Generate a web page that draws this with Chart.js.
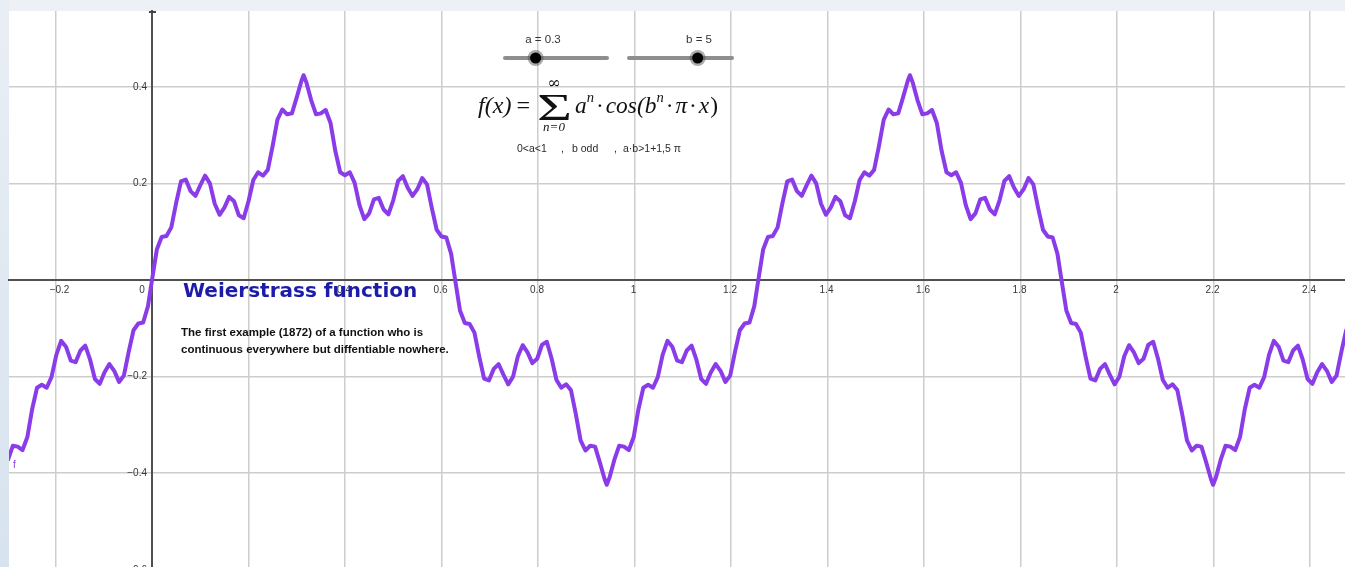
<!DOCTYPE html>
<html>
<head>
<meta charset="utf-8">
<title>Weierstrass function</title>
<script src="https://cdn.jsdelivr.net/npm/chart.js@4.4.1/dist/chart.umd.min.js"></script>
<style>
  html, body { margin: 0; padding: 0; background: #e6edf4; overflow: hidden; }
  canvas { display: block; }
</style>
</head>
<body>
<canvas id="plot" width="1345" height="567"></canvas>
<script>
// ---- Curve samples f(x), one array pair per half wave ----
const part1X = [-0.3083, -0.2983, -0.2883, -0.2783, -0.2683, -0.2583, -0.2483, -0.2383, -0.2283, -0.2183,
  -0.2083, -0.1983, -0.1883, -0.1783, -0.1683, -0.1583, -0.1483, -0.1383, -0.1283, -0.1183,
  -0.1083, -0.0983, -0.0883, -0.0783, -0.0683, -0.0583, -0.0483, -0.0383, -0.0283, -0.0183, -0.0083];
const part1Y = [-0.409, -0.372, -0.343, -0.345, -0.352, -0.325, -0.267, -0.223, -0.217, -0.223,
  -0.201, -0.155, -0.126, -0.138, -0.167, -0.170, -0.146, -0.136, -0.165, -0.205,
  -0.215, -0.191, -0.174, -0.188, -0.211, -0.198, -0.149, -0.104, -0.090, -0.088, -0.054];

const part2X = [0.00, 0.01, 0.02, 0.03, 0.04, 0.05, 0.06, 0.07, 0.08, 0.09,
  0.10, 0.11, 0.12, 0.13, 0.14, 0.15, 0.16, 0.17, 0.18, 0.19,
  0.20, 0.21, 0.22, 0.23, 0.24, 0.25, 0.26, 0.27, 0.28, 0.29,
  0.30, 0.31, 0.3142, 0.32, 0.33, 0.34, 0.35, 0.36, 0.37, 0.38, 0.39,
  0.40, 0.41, 0.42, 0.43, 0.44, 0.45, 0.46, 0.47, 0.48, 0.49,
  0.50, 0.51, 0.52, 0.53, 0.54, 0.55, 0.56, 0.57, 0.58, 0.59,
  0.60, 0.61, 0.62];
const part2Y = [0.000, 0.063, 0.089, 0.091, 0.109, 0.159, 0.204, 0.208, 0.184, 0.174,
  0.196, 0.216, 0.200, 0.158, 0.135, 0.150, 0.172, 0.163, 0.134, 0.128,
  0.163, 0.207, 0.223, 0.216, 0.228, 0.277, 0.332, 0.353, 0.343, 0.345,
  0.378, 0.413, 0.424, 0.409, 0.372, 0.343, 0.345, 0.352, 0.325, 0.267, 0.223,
  0.217, 0.223, 0.201, 0.155, 0.126, 0.138, 0.167, 0.170, 0.146, 0.136,
  0.165, 0.205, 0.215, 0.191, 0.174, 0.188, 0.211, 0.198, 0.149, 0.104,
  0.090, 0.088, 0.054];

const part3X = [0.6283, 0.6383, 0.6483, 0.6583, 0.6683, 0.6783, 0.6883, 0.6983, 0.7083, 0.7183,
  0.7283, 0.7383, 0.7483, 0.7583, 0.7683, 0.7783, 0.7883, 0.7983, 0.8083, 0.8183,
  0.8283, 0.8383, 0.8483, 0.8583, 0.8683, 0.8783, 0.8883, 0.8983, 0.9083, 0.9183,
  0.9283, 0.9383, 0.9425, 0.9483, 0.9583, 0.9683, 0.9783, 0.9883, 0.9983, 1.0083, 1.0183,
  1.0283, 1.0383, 1.0483, 1.0583, 1.0683, 1.0783, 1.0883, 1.0983, 1.1083, 1.1183,
  1.1283, 1.1383, 1.1483, 1.1583, 1.1683, 1.1783, 1.1883, 1.1983, 1.2083, 1.2183,
  1.2283, 1.2383, 1.2483];
const part3Y = [-0.000, -0.063, -0.089, -0.091, -0.109, -0.159, -0.204, -0.208, -0.184, -0.174,
  -0.196, -0.216, -0.200, -0.158, -0.135, -0.150, -0.172, -0.163, -0.134, -0.128,
  -0.163, -0.207, -0.223, -0.216, -0.228, -0.277, -0.332, -0.353, -0.343, -0.345,
  -0.378, -0.413, -0.424, -0.409, -0.372, -0.343, -0.345, -0.352, -0.325, -0.267, -0.223,
  -0.217, -0.223, -0.201, -0.155, -0.126, -0.138, -0.167, -0.170, -0.146, -0.136,
  -0.165, -0.205, -0.215, -0.191, -0.174, -0.188, -0.211, -0.198, -0.149, -0.104,
  -0.090, -0.088, -0.054];

const part4X = [1.2566, 1.2666, 1.2766, 1.2866, 1.2966, 1.3066, 1.3166, 1.3266, 1.3366, 1.3466,
  1.3566, 1.3666, 1.3766, 1.3866, 1.3966, 1.4066, 1.4166, 1.4266, 1.4366, 1.4466,
  1.4566, 1.4666, 1.4766, 1.4866, 1.4966, 1.5066, 1.5166, 1.5266, 1.5366, 1.5466,
  1.5566, 1.5666, 1.5708, 1.5766, 1.5866, 1.5966, 1.6066, 1.6166, 1.6266, 1.6366, 1.6466,
  1.6566, 1.6666, 1.6766, 1.6866, 1.6966, 1.7066, 1.7166, 1.7266, 1.7366, 1.7466,
  1.7566, 1.7666, 1.7766, 1.7866, 1.7966, 1.8066, 1.8166, 1.8266, 1.8366, 1.8466,
  1.8566, 1.8666, 1.8766];
const part4Y = [0.000, 0.063, 0.089, 0.091, 0.109, 0.159, 0.204, 0.208, 0.184, 0.174,
  0.196, 0.216, 0.200, 0.158, 0.135, 0.150, 0.172, 0.163, 0.134, 0.128,
  0.163, 0.207, 0.223, 0.216, 0.228, 0.277, 0.332, 0.353, 0.343, 0.345,
  0.378, 0.413, 0.424, 0.409, 0.372, 0.343, 0.345, 0.352, 0.325, 0.267, 0.223,
  0.217, 0.223, 0.201, 0.155, 0.126, 0.138, 0.167, 0.170, 0.146, 0.136,
  0.165, 0.205, 0.215, 0.191, 0.174, 0.188, 0.211, 0.198, 0.149, 0.104,
  0.090, 0.088, 0.054];

const part5X = [1.8850, 1.8950, 1.9050, 1.9150, 1.9250, 1.9350, 1.9450, 1.9550, 1.9650, 1.9750,
  1.9850, 1.9950, 2.0050, 2.0150, 2.0250, 2.0350, 2.0450, 2.0550, 2.0650, 2.0750,
  2.0850, 2.0950, 2.1050, 2.1150, 2.1250, 2.1350, 2.1450, 2.1550, 2.1650, 2.1750,
  2.1850, 2.1950, 2.1992, 2.2050, 2.2150, 2.2250, 2.2350, 2.2450, 2.2550, 2.2650, 2.2750,
  2.2850, 2.2950, 2.3050, 2.3150, 2.3250, 2.3350, 2.3450, 2.3550, 2.3650, 2.3750,
  2.3850, 2.3950, 2.4050, 2.4150, 2.4250, 2.4350, 2.4450, 2.4550, 2.4650, 2.4750];
const part5Y = [-0.000, -0.063, -0.089, -0.091, -0.109, -0.159, -0.204, -0.208, -0.184, -0.174,
  -0.196, -0.216, -0.200, -0.158, -0.135, -0.150, -0.172, -0.163, -0.134, -0.128,
  -0.163, -0.207, -0.223, -0.216, -0.228, -0.277, -0.332, -0.353, -0.343, -0.345,
  -0.378, -0.413, -0.424, -0.409, -0.372, -0.343, -0.345, -0.352, -0.325, -0.267, -0.223,
  -0.217, -0.223, -0.201, -0.155, -0.126, -0.138, -0.167, -0.170, -0.146, -0.136,
  -0.165, -0.205, -0.215, -0.191, -0.174, -0.188, -0.211, -0.198, -0.149, -0.104];

// ---- Axes: grid values and printed labels ----
const xGridValues = [-0.2, 0, 0.2, 0.4, 0.6, 0.8, 1, 1.2, 1.4, 1.6, 1.8, 2, 2.2, 2.4];
const yGridValues = [-0.4, -0.2, 0, 0.2, 0.4];
const xLabelValues = [-0.2, 0.4, 0.6, 0.8, 1, 1.2, 1.4, 1.6, 1.8, 2, 2.2, 2.4];
const yLabelValues = [-0.6, -0.4, -0.2, 0.2, 0.4];

// ---- Sliders ----
const sliderA = { name: 'a', value: 0.3, min: 0, max: 1 };
const sliderB = { name: 'b', value: 5, min: 1, max: 7 };

const CURVE = '#8a3ce8';

const parts = [[part1X, part1Y], [part2X, part2Y], [part3X, part3Y], [part4X, part4Y], [part5X, part5Y]];
const curvePoints = [];
parts.forEach(([xs, ys]) => {
  const n = Math.min(xs.length, ys.length);
  for (let i = 0; i < n; i++) curvePoints.push({ x: xs[i], y: ys[i] });
});

function fmt(v) {
  const s = String(Math.round(Math.abs(v) * 10) / 10);
  return v < 0 ? '\u2212' + s : s;
}

function put(ctx, text, x, y, font, width, align) {
  ctx.font = font;
  ctx.textAlign = align || 'left';
  if (width) {
    const m = ctx.measureText(text).width;
    ctx.save();
    ctx.translate(x, y);
    ctx.scale(width / m, 1);
    ctx.fillText(text, 0, 0);
    ctx.restore();
  } else {
    ctx.fillText(text, x, y);
  }
}

// lays out a run of pieces left to right, squeezed/stretched to a given width
function putRun(ctx, items, x, y, width) {
  ctx.textAlign = 'left';
  let total = 0;
  items.forEach(it => {
    if (it.gap) { it.w = it.gap; } else { ctx.font = it.f; it.w = ctx.measureText(it.t).width; }
    total += it.w;
  });
  ctx.save();
  ctx.translate(x, y);
  ctx.scale(width / total, 1);
  let cx = 0;
  items.forEach(it => {
    if (!it.gap) { ctx.font = it.f; ctx.fillText(it.t, cx, it.dy || 0); }
    cx += it.w;
  });
  ctx.restore();
}

function drawSlider(ctx, s, x1, x2, y, labelX) {
  ctx.save();
  ctx.lineCap = 'round';
  ctx.strokeStyle = '#8e8e8e';
  ctx.lineWidth = 4;
  ctx.beginPath(); ctx.moveTo(x1, y); ctx.lineTo(x2, y); ctx.stroke();
  const kx = x1 + (s.value - s.min) / (s.max - s.min) * (x2 - x1);
  ctx.fillStyle = 'rgba(70,70,70,0.45)';
  ctx.beginPath(); ctx.arc(kx, y, 8, 0, Math.PI * 2); ctx.fill();
  ctx.fillStyle = '#000';
  ctx.beginPath(); ctx.arc(kx, y, 5.5, 0, Math.PI * 2); ctx.fill();
  ctx.fillStyle = '#333';
  ctx.textBaseline = 'alphabetic';
  put(ctx, s.name + ' = ' + s.value, labelX, 43, '11.5px "Liberation Sans", Arial, sans-serif', null, 'center');
  ctx.restore();
}

const sheet = {
  id: 'sheet',
  beforeDraw(chart) {
    const { ctx, chartArea: a, width, height } = chart;
    ctx.save();
    const g = ctx.createLinearGradient(0, 0, 0, height);
    g.addColorStop(0, '#e9eef4');
    g.addColorStop(1, '#d7e3ef');
    ctx.fillStyle = g;
    ctx.fillRect(0, 0, a.left, height);
    ctx.fillStyle = '#edf1f5';
    ctx.fillRect(a.left, 0, width - a.left, a.top);
    ctx.fillStyle = '#ffffff';
    ctx.fillRect(a.left, a.top, a.right - a.left, a.bottom - a.top);
    ctx.restore();
  },
  beforeDatasetsDraw(chart) {
    const { ctx, chartArea: a } = chart;
    const xs = chart.scales.x, ys = chart.scales.y;
    const x0 = xs.getPixelForValue(0), y0 = ys.getPixelForValue(0);
    ctx.save();
    ctx.fillStyle = '#363636';
    ctx.textBaseline = 'middle';
    const tickFont = '10px "Liberation Sans", Arial, sans-serif';
    xLabelValues.forEach(v => {
      put(ctx, fmt(v), xs.getPixelForValue(v) + (v < 0 ? 4 : -1), y0 + 10, tickFont, null, 'center');
    });
    yLabelValues.forEach(v => {
      put(ctx, fmt(v), x0 - 5, ys.getPixelForValue(v), tickFont, null, 'right');
    });
    put(ctx, '0', x0 - 10, y0 + 10, tickFont, null, 'center');
    // cap at the top of the vertical axis
    ctx.fillStyle = '#444';
    ctx.fillRect(x0 - 3, a.top, 7, 2);
    ctx.restore();
  },
  afterDatasetsDraw(chart) {
    const { ctx } = chart;
    ctx.save();
    ctx.textBaseline = 'alphabetic';

    drawSlider(ctx, sliderA, 505, 607, 58, 543);
    drawSlider(ctx, sliderB, 629, 732, 58, 699);

    // f(x) = sum a^n cos(b^n pi x)
    ctx.fillStyle = '#111';
    const it = 'italic 24px "Liberation Serif", "DejaVu Serif", serif';
    const up = '24px "Liberation Serif", "DejaVu Serif", serif';
    const sup = 'italic 15px "Liberation Serif", "DejaVu Serif", serif';
    putRun(ctx, [
      { t: 'f(x)', f: it }, { gap: 5 }, { t: '=', f: up }
    ], 478, 113, 52);
    put(ctx, '\u03A3', 537, 120, '37px "Liberation Serif", "DejaVu Serif", serif', 35);
    put(ctx, '\u221E', 554, 88, '16px "DejaVu Serif", serif', null, 'center');
    put(ctx, 'n=0', 554, 131, 'italic 13px "Liberation Serif", "DejaVu Serif", serif', null, 'center');
    putRun(ctx, [
      { t: 'a', f: it }, { t: 'n', f: sup, dy: -11 }, { gap: 2 }, { t: '\u00B7', f: up }, { gap: 2 },
      { t: 'cos(', f: it }, { t: 'b', f: it }, { t: 'n', f: sup, dy: -11 }, { gap: 2 },
      { t: '\u00B7', f: up }, { gap: 2 }, { t: '\u03C0', f: it }, { gap: 2 }, { t: '\u00B7', f: up },
      { gap: 2 }, { t: 'x', f: it }, { gap: 1 }, { t: ')', f: up }
    ], 575, 113, 143);

    ctx.fillStyle = '#2a2a2a';
    const cond = '10.5px "Liberation Sans", Arial, sans-serif';
    put(ctx, '0<a<1', 517, 152, cond);
    put(ctx, ',', 561, 152, cond);
    put(ctx, 'b odd', 572, 152, cond);
    put(ctx, ',', 614, 152, cond);
    put(ctx, 'a\u00B7b>1+1,5 \u03C0', 623, 152, cond);

    // title and note
    ctx.fillStyle = '#1c1ca8';
    put(ctx, 'Weierstrass function', 183, 297, 'bold 20px "DejaVu Sans", Verdana, sans-serif');
    ctx.fillStyle = '#111';
    const note = 'bold 11.5px "Liberation Sans", Arial, sans-serif';
    put(ctx, 'The first example (1872) of a function who is', 181, 335.5, note);
    put(ctx, 'continuous everywhere but diffentiable nowhere.', 181, 353, note);

    // curve name
    ctx.fillStyle = CURVE;
    put(ctx, 'f', 13, 468, '10px "Liberation Sans", Arial, sans-serif');
    ctx.restore();
  }
};

const gridColor = c => (c.tick && c.tick.value === 0) ? 'rgba(0,0,0,0)' : '#cdcdcd';

new Chart(document.getElementById('plot'), {
  type: 'line',
  data: {
    datasets: [{
      data: curvePoints,
      borderColor: CURVE,
      borderWidth: 4,
      pointRadius: 0,
      pointHoverRadius: 0,
      tension: 0,
      fill: false,
      borderJoinStyle: 'round',
      borderCapStyle: 'round',
      clip: 0
    }]
  },
  options: {
    responsive: false,
    animation: false,
    devicePixelRatio: 1,
    events: [],
    layout: { padding: { left: 9, top: 11, right: 0, bottom: 0 } },
    plugins: { legend: { display: false }, tooltip: { enabled: false } },
    scales: {
      x: {
        type: 'linear',
        min: -0.29637,
        max: 2.47254,
        position: { y: 0 },
        afterBuildTicks: s => { s.ticks = xGridValues.map(v => ({ value: v })); },
        afterFit: s => { s.paddingLeft = 0; s.paddingRight = 0; s.paddingTop = 0; s.paddingBottom = 0; },
        ticks: { display: false },
        grid: { color: gridColor, lineWidth: 1.5, drawTicks: false },
        border: { display: true, color: '#505050', width: 2 }
      },
      y: {
        type: 'linear',
        min: -0.59420,
        max: 0.55694,
        position: { x: 0 },
        afterBuildTicks: s => { s.ticks = yGridValues.map(v => ({ value: v })); },
        afterFit: s => { s.paddingLeft = 0; s.paddingRight = 0; s.paddingTop = 0; s.paddingBottom = 0; },
        ticks: { display: false },
        grid: { color: gridColor, lineWidth: 1.5, drawTicks: false },
        border: { display: true, color: '#505050', width: 2 }
      }
    }
  },
  plugins: [sheet]
});
</script>
</body>
</html>
